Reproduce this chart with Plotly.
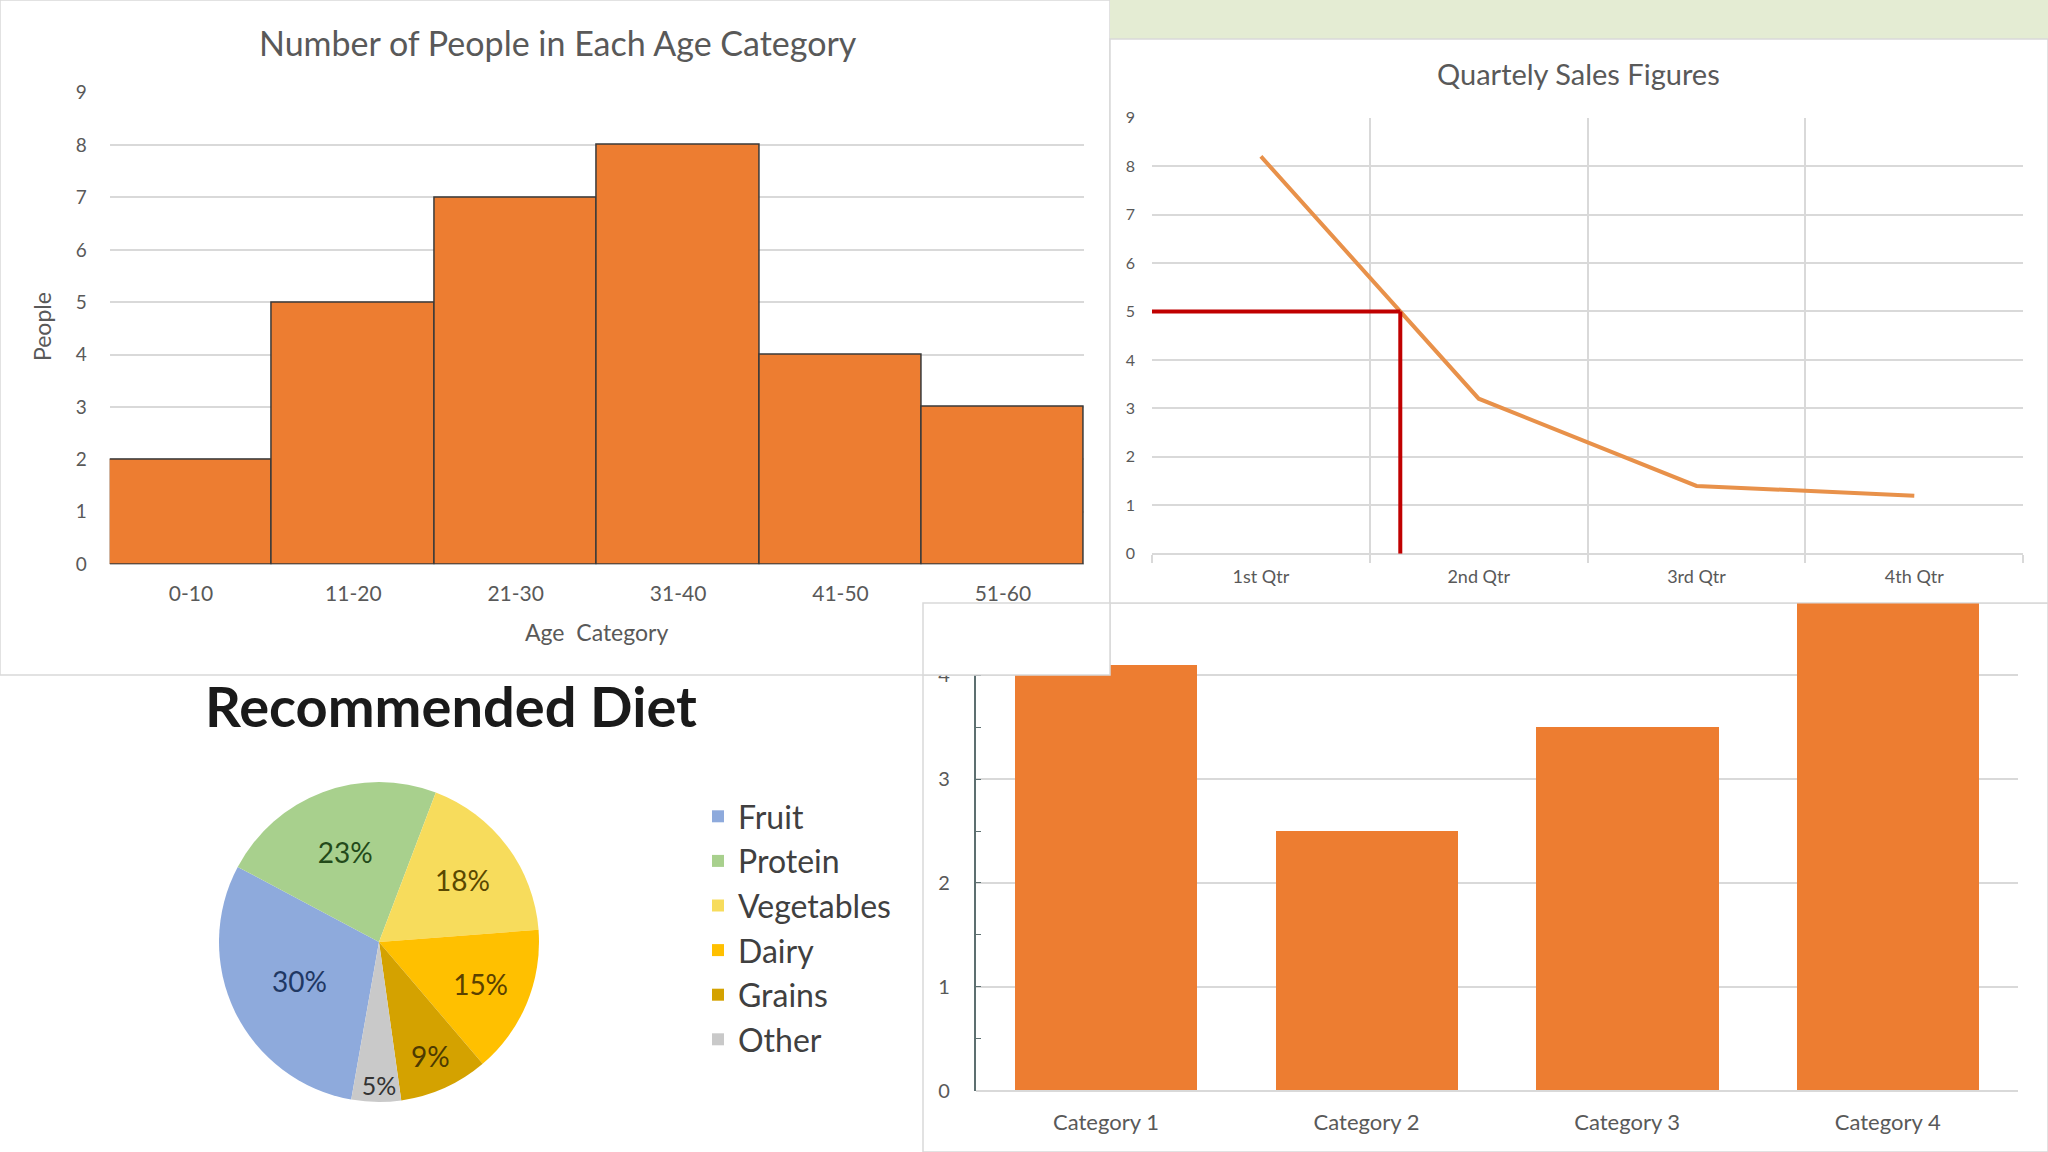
import plotly.graph_objects as go

W, H = 2048, 1152

# top-left histogram
age_groups = ["0-10", "11-20", "21-30", "31-40", "41-50", "51-60"]
people = [2, 5, 7, 8, 4, 3]

# top-right line chart
quarters = ["1st Qtr", "2nd Qtr", "3rd Qtr", "4th Qtr"]
sales = [8.2, 3.2, 1.4, 1.2]
sales_marker = 5

# bottom-left pie
foods = ["Fruit", "Protein", "Vegetables", "Dairy", "Grains", "Other"]
diet_share = [30, 23, 18, 15, 9, 5]
diet_colors = ["#8eaadc", "#a8d08d", "#f7dc5c", "#ffc000", "#d4a200", "#c9c9c9"]
diet_text = ["#1f3864", "#234a1a", "#5a4800", "#5a4100", "#4d3a00", "#333333"]

# bottom-right column chart
categories = ["Category 1", "Category 2", "Category 3", "Category 4"]
series1 = [4.1, 2.5, 3.5, 4.8]

ORANGE = "#ed7d31"
GRID = "#d9d9d9"
TEXT = "#595959"
FONT = "Lato"


def fx(p):
    return p / W


def fy(p):
    return 1 - p / H


def panel(x0, y0, x1, y1, fill="white", line=GRID, layer="below"):
    return dict(
        type="rect", xref="paper", yref="paper",
        x0=fx(x0), x1=fx(x1), y0=fy(y0), y1=fy(y1),
        fillcolor=fill, line=dict(color=line, width=1.5 if line else 0),
        layer=layer
    )


fig = go.Figure()

fig.add_trace(go.Bar(
    x=age_groups, y=people,
    marker=dict(color=ORANGE, line=dict(color="#3a3a3a", width=1.5)),
    xaxis="x", yaxis="y", showlegend=False
))

fig.add_trace(go.Scatter(
    x=quarters, y=sales, mode="lines",
    line=dict(color="#e8914a", width=4),
    xaxis="x2", yaxis="y2", showlegend=False
))

fig.add_trace(go.Pie(
    labels=foods, values=diet_share, sort=False,
    direction="clockwise", rotation=190,
    marker=dict(colors=diet_colors, line=dict(width=0)),
    textinfo="percent", textposition="inside",
    insidetextorientation="horizontal",
    textfont=dict(size=28, color=diet_text, family=FONT),
    domain=dict(x=[fx(219), fx(539)], y=[fy(1102), fy(782)]),
    hoverinfo="label+percent"
))

fig.add_trace(go.Bar(
    x=categories, y=series1, width=0.7,
    marker=dict(color=ORANGE, line=dict(width=0)),
    xaxis="x3", yaxis="y3", showlegend=False
))

# where the sales line crosses the marked level, between Q1 and Q2
cross = (sales[0] - sales_marker) / (sales[0] - sales[1])

shapes = [
    panel(0, 675, 923, 1152, line=None),
    panel(923, 603, 2048, 1152),
    panel(0, 0, 1110, 675),
    panel(1110, 0, 2048, 39, fill="#e4ecd3", line=None),
    panel(1110, 39, 2048, 603),
    dict(type="line", xref="x2", yref="y2", x0=-0.5, x1=cross,
         y0=sales_marker, y1=sales_marker,
         line=dict(color="#c00000", width=4), layer="above"),
    dict(type="line", xref="x2", yref="y2", x0=cross, x1=cross,
         y0=0, y1=sales_marker,
         line=dict(color="#c00000", width=4), layer="above"),
    # corner of the histogram panel sits on top of the column chart
    panel(923, 603, 1110, 675, layer="above"),
]

annotations = [
    dict(text="Number of People in Each Age Category", x=fx(558), y=fy(43),
         font=dict(size=34, color=TEXT)),
    dict(text="Age  Category", x=fx(596), y=fy(632),
         font=dict(size=23, color=TEXT)),
    dict(text="People", x=fx(42), y=fy(327), textangle=-90,
         font=dict(size=23, color=TEXT)),
    dict(text="Quartely Sales Figures", x=fx(1578), y=fy(73),
         font=dict(size=29, color=TEXT)),
    dict(text="<b>Recommended Diet</b>", x=fx(451), y=fy(705),
         font=dict(size=56, color="#1a1a1a")),
]
for a in annotations:
    a.update(xref="paper", yref="paper", showarrow=False,
             xanchor="center", yanchor="middle")

fig.update_layout(
    width=W, height=H,
    margin=dict(l=0, r=0, t=0, b=0, autoexpand=False),
    paper_bgcolor="white",
    plot_bgcolor="rgba(0,0,0,0)",
    font=dict(family=FONT, color=TEXT),
    bargap=0,
    shapes=shapes,
    annotations=annotations,
    legend=dict(
        x=fx(698), y=fy(789), xanchor="left", yanchor="top",
        font=dict(size=32, color="#404040"),
        bgcolor="rgba(0,0,0,0)"
    ),
    xaxis=dict(
        domain=[fx(109.7), fx(1084.1)], anchor="y",
        showgrid=False, ticks="", tickfont=dict(size=21, color=TEXT),
        ticklabelstandoff=15, showline=False
    ),
    yaxis=dict(
        domain=[fy(564.2), fy(92.7)], anchor="x",
        range=[0, 9], dtick=1, gridcolor=GRID, gridwidth=1.5,
        zeroline=True, zerolinecolor=GRID, zerolinewidth=1.5,
        tickfont=dict(size=19, color=TEXT), ticklabelstandoff=22
    ),
    xaxis2=dict(
        domain=[fx(1152), fx(2023.2)], anchor="y2", type="category",
        range=[-0.5, len(quarters) - 0.5],
        tickson="boundaries", showgrid=True, gridcolor=GRID, gridwidth=1.5,
        ticks="outside", ticklen=8, tickcolor=GRID, tickwidth=1.5,
        tickfont=dict(size=18, color=TEXT), ticklabelstandoff=10,
        showline=False
    ),
    yaxis2=dict(
        domain=[fy(553.8), fy(117.6)], anchor="x2",
        range=[0, 9], dtick=1, gridcolor=GRID, gridwidth=1.5,
        zeroline=True, zerolinecolor=GRID, zerolinewidth=1.5,
        tickfont=dict(size=16, color=TEXT), ticklabelstandoff=16
    ),
    xaxis3=dict(
        domain=[fx(975.7), fx(2018)], anchor="y3",
        showgrid=False, ticks="", tickfont=dict(size=22, color=TEXT),
        ticklabelstandoff=16
    ),
    yaxis3=dict(
        domain=[fy(1090.6), fy(603.4)], anchor="x3",
        range=[0, 4.693], dtick=1, gridcolor=GRID, gridwidth=1.5,
        zeroline=True, zerolinecolor=GRID, zerolinewidth=1.5,
        showline=True, linecolor="#5d6f70", linewidth=1.5,
        ticks="inside", ticklen=6, tickcolor="#5d6f70",
        minor=dict(dtick=0.5, ticks="inside", ticklen=6,
                   tickcolor="#5d6f70", showgrid=False),
        tickfont=dict(size=20, color=TEXT), ticklabelstandoff=20
    ),
)
fig.update_xaxes(automargin=False)
fig.update_yaxes(automargin=False)

fig.write_html(
    "out.html",
    config={"displayModeBar": False},
    post_script="document.body.style.margin='0';"
                "document.documentElement.style.overflow='hidden';"
)
